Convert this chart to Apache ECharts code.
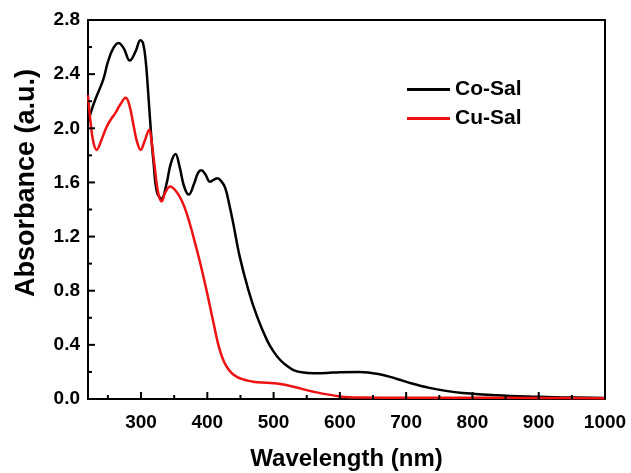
<!DOCTYPE html>
<html>
<head>
<meta charset="utf-8">
<script src="https://cdn.jsdelivr.net/npm/echarts@6/dist/echarts.min.js"></script>
<style>
html,body{margin:0;padding:0;background:#fff;}
#chart{width:631px;height:473px;}
</style>
</head>
<body>
<div id="chart"></div>
<script>
// Data
const coSalWavelength = [220, 230, 243, 250, 258, 266, 274, 283, 292, 299, 303, 307, 311, 315, 319, 324, 331, 338, 345, 352, 358, 365, 372, 380, 386, 391, 397, 404, 410, 415, 421, 427, 433, 439, 449, 462, 475, 490, 500, 510, 520, 530, 545, 560, 580, 600, 630, 660, 685, 710, 735, 760, 785, 836, 887, 937, 1000];
const coSalAbs = [2.05, 2.20, 2.36, 2.49, 2.59, 2.63, 2.59, 2.50, 2.57, 2.65, 2.63, 2.50, 2.25, 1.97, 1.74, 1.53, 1.48, 1.58, 1.74, 1.81, 1.72, 1.57, 1.51, 1.59, 1.67, 1.69, 1.66, 1.605, 1.62, 1.63, 1.61, 1.56, 1.44, 1.30, 1.05, 0.805, 0.61, 0.435, 0.35, 0.288, 0.245, 0.214, 0.195, 0.19, 0.192, 0.198, 0.20, 0.183, 0.15, 0.113, 0.082, 0.06, 0.045, 0.028, 0.018, 0.012, 0.008];

const cuSalWavelength = [220, 224, 228, 233, 240, 248, 255, 261, 268, 277, 283, 288, 294, 299.5, 305, 312.5, 316, 320, 326, 331, 337, 344, 352, 361, 369, 379, 389, 399, 409, 419, 429, 444, 469, 490, 505, 530, 560, 600, 630, 700, 800, 900, 1000];
const cuSalAbs = [2.245, 2.04, 1.90, 1.84, 1.91, 2.01, 2.07, 2.11, 2.17, 2.225, 2.16, 2.04, 1.90, 1.84, 1.90, 1.99, 1.90, 1.74, 1.52, 1.46, 1.53, 1.57, 1.54, 1.47, 1.37, 1.20, 1.01, 0.80, 0.57, 0.36, 0.24, 0.165, 0.128, 0.12, 0.114, 0.091, 0.054, 0.019, 0.011, 0.01, 0.01, 0.008, 0.006];

const xMajorTicks = [300, 400, 500, 600, 700, 800, 900, 1000];
const xMinorTicks = [250, 350, 450, 550, 650, 750, 850, 950];
const yMajorTicks = [0.4, 0.8, 1.2, 1.6, 2.0, 2.4];
const yMinorTicks = [0.2, 0.6, 1.0, 1.4, 1.8, 2.2, 2.6];
const seriesNames = ['Co-Sal', 'Cu-Sal'];
const xTitle = 'Wavelength (nm)';
const yTitle = 'Absorbance (a.u.)';

const FONT = '"Liberation Sans", Arial, sans-serif';
const pairs = (xs, ys) => xs.map((x, i) => [x, ys[i]]);
const boxLine = {show: true, onZero: false, lineStyle: {color: '#000', width: 2}};

const chart = echarts.init(document.getElementById('chart'), null, {renderer: 'canvas'});
const titleGraphic = {
  id: 'ytitle', type: 'text', left: 13, top: 69,
  style: {text: yTitle, fontFamily: FONT, fontWeight: 'bold', fontSize: 27, fill: '#000'},
  rotation: Math.PI / 2, originX: 0, originY: 0
};
chart.setOption({
  backgroundColor: '#fff',
  animation: false,
  grid: {left: 88, top: 20, right: 26, bottom: 74, containLabel: false, outerBoundsMode: 'none'},
  legend: {
    orient: 'vertical', left: 407, top: 79, padding: 0, itemWidth: 43, itemHeight: 3, itemGap: 8,
    icon: 'rect',
    textStyle: {fontFamily: FONT, fontWeight: 'bold', fontSize: 21, color: '#000'},
    data: seriesNames
  },
  graphic: [titleGraphic],
  xAxis: [{
    type: 'value', min: 220, max: 1000, position: 'bottom',
    axisLine: boxLine,
    axisTick: {show: false},
    axisLabel: {customValues: xMajorTicks, margin: 14, fontFamily: FONT, fontWeight: 'bold', fontSize: 19, color: '#000', formatter: v => String(v)},
    splitLine: {show: false},
    name: xTitle, nameLocation: 'middle', nameGap: 48,
    nameTextStyle: {fontFamily: FONT, fontWeight: 'bold', fontSize: 24, color: '#000'}
  }, {
    type: 'value', min: 220, max: 1000, position: 'top',
    axisLine: boxLine, axisTick: {show: false}, axisLabel: {show: false}, splitLine: {show: false}
  }],
  yAxis: [{
    type: 'value', min: 0, max: 2.8, interval: 0.4, position: 'left',
    axisLine: boxLine,
    axisTick: {show: false},
    axisLabel: {margin: 8, fontFamily: FONT, fontWeight: 'bold', fontSize: 19, color: '#000', formatter: v => v.toFixed(1)},
    splitLine: {show: false}
  }, {
    type: 'value', min: 0, max: 2.8, position: 'right',
    axisLine: boxLine, axisTick: {show: false}, axisLabel: {show: false}, splitLine: {show: false}
  }],
  series: [{
    name: seriesNames[0], type: 'line', xAxisIndex: 0, yAxisIndex: 0, smooth: 0.4, symbol: 'none',
    lineStyle: {color: '#000', width: 2.5}, itemStyle: {color: '#000'},
    data: pairs(coSalWavelength, coSalAbs)
  }, {
    name: seriesNames[1], type: 'line', xAxisIndex: 0, yAxisIndex: 0, smooth: 0.4, symbol: 'none',
    lineStyle: {color: '#ee1111', width: 2.5}, itemStyle: {color: '#ee1111'},
    data: pairs(cuSalWavelength, cuSalAbs)
  }]
});

// Tick marks placed through the chart's own axis scales (inside-pointing, as in the reference)
const finder = {xAxisIndex: 0, yAxisIndex: 0};
const tickLine = (x1, y1, x2, y2) => ({type: 'line', silent: true, z: 10,
  shape: {x1, y1, x2, y2}, style: {stroke: '#000', lineWidth: 2}});
const tickGraphics = [];
xMajorTicks.forEach(v => { const p = chart.convertToPixel(finder, [v, 0]); tickGraphics.push(tickLine(p[0], p[1], p[0], p[1] - 7)); });
xMinorTicks.forEach(v => { const p = chart.convertToPixel(finder, [v, 0]); tickGraphics.push(tickLine(p[0], p[1], p[0], p[1] - 4)); });
yMajorTicks.forEach(v => { const p = chart.convertToPixel(finder, [220, v]); tickGraphics.push(tickLine(p[0], p[1], p[0] + 7, p[1])); });
yMinorTicks.forEach(v => { const p = chart.convertToPixel(finder, [220, v]); tickGraphics.push(tickLine(p[0], p[1], p[0] + 4, p[1])); });
chart.setOption({graphic: [titleGraphic].concat(tickGraphics)});
</script>
</body>
</html>
